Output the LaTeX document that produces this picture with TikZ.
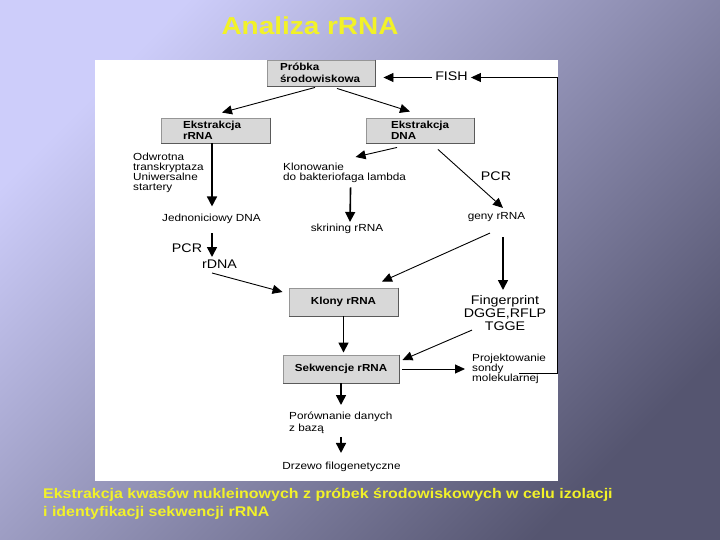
\documentclass[tikz,border=0pt]{standalone}
\usepackage{fontspec}
\setmainfont{Liberation Sans}
\newfontfamily\dfont[FakeStretch=1.14]{Liberation Sans}
\usetikzlibrary{arrows.meta,calc}
\definecolor{ylw}{RGB}{242,242,40}
\definecolor{bgl}{RGB}{205,205,250}
\definecolor{bgd}{RGB}{85,85,112}
\definecolor{boxfill}{RGB}{216,216,216}
\definecolor{boxline}{RGB}{150,150,150}
\definecolor{boxdark}{RGB}{90,90,90}
\tikzset{
  box/.style={draw=boxline, fill=boxfill, line width=0.9pt, inner ysep=0pt,
    font=\dfont\bfseries\fontsize{10.2}{11.5}\selectfont},
  lbl/.style={inner sep=0pt, font=\dfont\fontsize{10.3}{10.3}\selectfont, text height=7.5pt, text depth=2.2pt},
  lblm/.style={inner sep=0pt, align=left, font=\dfont\fontsize{10.3}{10.1}\selectfont},
  big/.style={inner sep=0pt, font=\dfont\fontsize{12.5}{13}\selectfont, text height=9pt, text depth=2.6pt},
  bigm/.style={inner sep=0pt, align=center, font=\dfont\fontsize{12.5}{13}\selectfont},
  arr/.style={-{Triangle[length=10pt,width=9pt]}, line width=0.9pt},
  arrb/.style={-{Triangle[length=10pt,width=10pt]}, line width=1.6pt},
  edge/.style={draw=boxdark, line width=0.9pt},
}
\begin{document}
\begin{tikzpicture}[x=1pt,y=-1pt]
\useasboundingbox (0,0) rectangle (720,540);
\shade[top color=bgl, bottom color=bgd, shading angle=45] (0,0) rectangle (720,540);
\fill[white] (95,60) rectangle (558,481);

% title and caption
\node[inner sep=0pt, text=ylw, font=\dfont\bfseries\fontsize{24.5}{28}\selectfont] (title) at (310,26) {Analiza rRNA};
\node[inner sep=0pt, anchor=north west, align=left, text=ylw,
      font=\dfont\bfseries\fontsize{14}{18.5}\selectfont] (cap) at (43,488)
  {Ekstrakcja kwasów nukleinowych z próbek środowiskowych w celu izolacji\\i identyfikacji sekwencji rRNA};

% boxes
\node[box, text width=82pt, align=left, inner xsep=13pt, minimum height=26pt] (prob) at (321,73) {Próbka\\środowiskowa};
\node[box, text width=65pt, align=left, inner xsep=22pt, minimum height=25pt] (rrnaE) at (215.5,130.5) {Ekstrakcja\\rRNA};
\node[box, text width=58pt, align=left, inner xsep=25pt, minimum height=25pt] (dnaE) at (420,130.5) {Ekstrakcja\\DNA};
\node[box, minimum width=109pt, minimum height=28pt] (klony) at (343.5,302) {Klony rRNA};
\node[box, minimum width=116pt, minimum height=28pt] (sekw) at (341,369) {Sekwencje rRNA};
\foreach \b in {prob,rrnaE,dnaE,klony,sekw}
  \draw[edge] (\b.north east) -- (\b.south east) -- (\b.south west);

% labels
\node[lblm, anchor=north west] (odw) at (133,153) {Odwrotna\\transkryptaza\\Uniwersalne\\startery};
\node[lbl] (jedn) at (211.5,219) {Jednoniciowy DNA};
\node[lblm, anchor=north west] (klon) at (283,163) {Klonowanie\\do bakteriofaga lambda};
\node[lbl] (skr) at (347,229) {skrining rRNA};
\node[big] (pcr1) at (496,177) {PCR};
\node[lbl] (geny) at (496.5,217) {geny rRNA};
\node[big] (pcr2) at (187,249) {PCR};
\node[big] (rdna) at (219.5,265) {rDNA};
\node[bigm, anchor=north] (fing) at (505,295.5) {Fingerprint\\DGGE,RFLP\\TGGE};
\node[big, inner xsep=3pt] (fish) at (451.5,77.5) {FISH};
\node[lblm, anchor=north west] (proj) at (472,354) {Projektowanie\\sondy\\molekularnej};
\node[lblm, anchor=north west, font=\dfont\fontsize{10.3}{11.7}\selectfont] (por) at (289,412) {Porównanie danych\\z bazą};
\node[lbl] (drz) at (341.5,467) {Drzewo filogenetyczne};

% connectors
\draw[arr] (fish.west) -- ([xshift=8pt,yshift=-4.5pt]prob.east);
\coordinate (loopstart) at (519,373);
\draw[arr] (loopstart) -- ++(38,0) |- (fish.east);
\draw[arr] ([xshift=-6pt,yshift=-1pt]prob.south) -- ([xshift=6.5pt,yshift=5pt]rrnaE.north);
\draw[arr] ([xshift=16pt,yshift=-2pt]prob.south) -- ([xshift=-10pt,yshift=6pt]dnaE.north);
\draw[arrb, shorten >=7.5pt] ([xshift=-3.5pt]rrnaE.south) -- ([xshift=-3.5pt]rrnaE.south |- jedn.north);
\draw[arr] ([xshift=-23pt,yshift=-4pt]dnaE.south) -- ([xshift=11pt,yshift=6pt]klon.north);
\draw[arrb] ([xshift=6pt,yshift=-4.3pt]klon.south) -- ([xshift=3pt,yshift=2pt]skr.north);
\draw[arr] ([xshift=18pt,yshift=-6pt]dnaE.south) -- ([xshift=6.5pt,yshift=4pt]geny.north);
\draw[arr] ([xshift=-6.5pt,yshift=-11pt]geny.south) -- ([xshift=38.5pt,yshift=6pt]klony.north);
\draw[arrb] ([xshift=6.5pt,yshift=-15pt]geny.south) -- ([xshift=-2pt,yshift=5.5pt]fing.north);
\draw[arrb] ([xshift=0.5pt,yshift=-9pt]jedn.south) -- ([xshift=-7.5pt,yshift=2pt]rdna.north);
\draw[arr] ([xshift=-7.5pt,yshift=-2pt]rdna.south) -- ([xshift=-6pt,yshift=10pt]klony.west);
\draw[arrb, shorten >=2pt] (klony.south) -- (klony.south |- sekw.north);
\draw[arr] ([xshift=-33pt,yshift=1pt]fing.south) -- ([xshift=3pt,yshift=9pt]sekw.east);
\draw[arr, shorten >=10pt] ([xshift=3pt]sekw.east) -- ([xshift=3pt]sekw.east -| proj.west);
\draw[arrb, shorten >=7pt] (sekw.south) -- (sekw.south |- por.north);
\draw[arrb, shorten <=3pt, shorten >=9pt] (sekw.south |- por.south) -- (sekw.south |- drz.north);
\end{tikzpicture}
\end{document}
